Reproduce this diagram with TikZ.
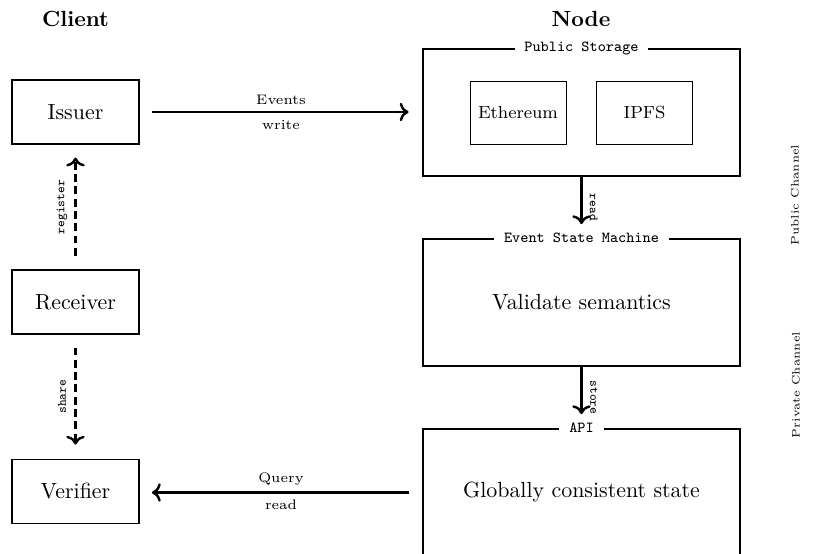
\documentclass[tikz,border=0pt]{standalone}
\usetikzlibrary{arrows.meta}
\newcommand{\upx}{0.456pt}
\begin{document}
\begin{tikzpicture}[x=0.456pt,y=-0.456pt,
  box/.style={draw,line width=0.8pt,minimum width=127*\upx,minimum height=64*\upx,inner sep=0pt,font=\normalsize},
  panel/.style={draw,line width=0.8pt,minimum width=317*\upx,minimum height=127*\upx,inner sep=0pt},
  innerbox/.style={draw,line width=0.45pt,minimum width=96*\upx,minimum height=63*\upx,inner sep=0pt,font=\footnotesize},
  paneltitle/.style={fill=white,inner xsep=4.5pt,inner ysep=1pt,font=\fontsize{7}{8}\selectfont\ttfamily},
  header/.style={font=\bfseries},
  flow/.style={line width=1.1pt,->},
  dflow/.style={flow,dash pattern=on 3.6pt off 2pt},
  elabel/.style={font=\fontsize{6.3}{8}\selectfont},
  tlabel/.style={font=\fontsize{5.8}{7}\selectfont\ttfamily},
  chan/.style={font=\fontsize{5}{6}\selectfont}]
\useasboundingbox (0,0) rectangle (831,554);

% column headers
\node[header] (client) at (75.5,19) {Client};
\node[header] (nodehead) at (581,19) {Node};

% client side
\node[box] (issuer) at (75.5,112) {Issuer};
\node[box] (receiver) at (75.5,302) {Receiver};
\node[box] (verifier) at (75.5,491.5) {Verifier};

% node side
\node[panel] (storage) at (581.5,112.5) {};
\node[paneltitle] (storagetitle) at (storage.north) {Public Storage};
\node[innerbox] (eth) at (518,112.5) {Ethereum};
\node[innerbox] (ipfs) at (644.5,112.5) {IPFS};

\node[panel] (esm) at (581.5,302.5) {Validate semantics};
\node[paneltitle] (esmtitle) at (esm.north) {Event State Machine};

\node[panel] (api) at (581.5,492.5) {Globally consistent state};
\node[paneltitle] (apititle) at (api.north) {API};

% channel labels
\node[chan,rotate=90] (pubchan) at (795,195) {Public Channel};
\node[chan,rotate=90] (privchan) at (796,385) {Private Channel};

% horizontal flows
\draw[flow,shorten <=5.5pt,shorten >=6.2pt] (issuer.east) -- (issuer.east -| storage.west)
  node[elabel,midway,yshift=5.5pt] {Events}
  node[elabel,midway,yshift=-5.9pt] {write};
\draw[flow,shorten <=5.9pt,shorten >=5.5pt] (api.west) -- (api.west -| verifier.east)
  node[elabel,midway,yshift=6.2pt] {Query}
  node[elabel,midway,yshift=-5.5pt] {read};

% vertical flows inside the node
\draw[flow,shorten >=6.4pt] (storage.south) -- (esm.north)
  node[tlabel,midway,xshift=5.6pt,rotate=-90] {read};
\draw[flow,shorten >=6.4pt] (esm.south) -- (api.north)
  node[tlabel,midway,xshift=5.6pt,rotate=-90] {store};

% client interactions
\draw[dflow,shorten <=6.1pt,shorten >=5.8pt] (receiver.north) -- (issuer.south)
  node[tlabel,midway,xshift=-6.2pt,rotate=90] {register};
\draw[dflow,shorten <=5.8pt,shorten >=6.4pt] (receiver.south) -- (verifier.north)
  node[tlabel,midway,xshift=-6.2pt,rotate=90] {share};
\end{tikzpicture}
\end{document}
